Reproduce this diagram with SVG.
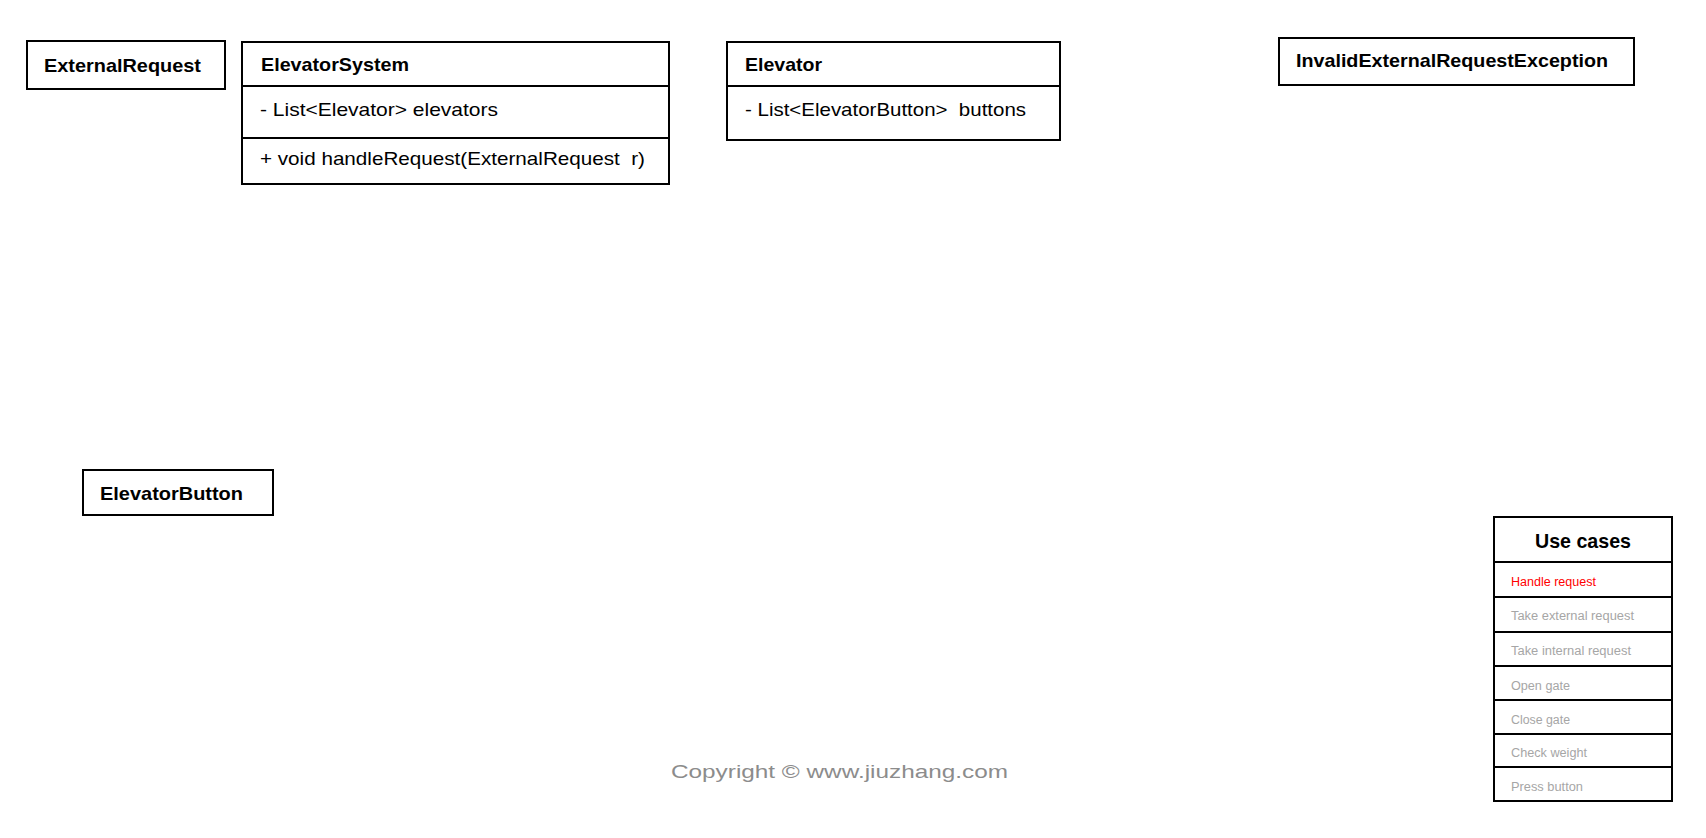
<svg xmlns="http://www.w3.org/2000/svg" width="1706" height="838" viewBox="0 0 1706 838">
<style>
.box{fill:#fff;stroke:#000;stroke-width:2}
.ln{stroke:#000;stroke-width:2}
.t{font-family:"Liberation Sans",Arial,sans-serif;font-weight:bold;font-size:19px;fill:#000}
.m{font-family:"Liberation Sans",Arial,sans-serif;font-size:18.5px;fill:#000}
.uc{font-family:"Liberation Sans",Arial,sans-serif;font-size:12.5px;fill:#a6a6a6}
.uch{font-family:"Liberation Sans",Arial,sans-serif;font-weight:bold;font-size:21px;fill:#000}
.cp{font-family:"Liberation Sans",Arial,sans-serif;font-size:19px;fill:#8c8c8c}
</style>
<rect width="1706" height="838" fill="#fff"/>
<g id="connectors"></g>
<g id="ExternalRequest">
<rect class="box" x="27" y="41" width="198" height="48"/>
<text class="t" x="44" y="71.5" textLength="157" lengthAdjust="spacingAndGlyphs">ExternalRequest</text>
</g>
<g id="ElevatorSystem">
<rect class="box" x="242" y="42" width="427" height="142"/>
<line class="ln" x1="242" y1="86" x2="669" y2="86"/>
<line class="ln" x1="242" y1="138" x2="669" y2="138"/>
<text class="t" x="261" y="71" textLength="148" lengthAdjust="spacingAndGlyphs">ElevatorSystem</text>
<text class="m" x="260" y="116" textLength="238" lengthAdjust="spacingAndGlyphs">- List&lt;Elevator&gt; elevators</text>
<text class="m" x="260" y="165" textLength="385" lengthAdjust="spacingAndGlyphs" xml:space="preserve">+ void handleRequest(ExternalRequest  r)</text>
</g>
<g id="Elevator">
<rect class="box" x="727" y="42" width="333" height="98"/>
<line class="ln" x1="727" y1="86" x2="1060" y2="86"/>
<text class="t" x="745" y="71" textLength="77" lengthAdjust="spacingAndGlyphs">Elevator</text>
<text class="m" x="745" y="116" textLength="281" lengthAdjust="spacingAndGlyphs" xml:space="preserve">- List&lt;ElevatorButton&gt;  buttons</text>
</g>
<g id="InvalidExternalRequestException">
<rect class="box" x="1279" y="38" width="355" height="47"/>
<text class="t" x="1296" y="67" textLength="312" lengthAdjust="spacingAndGlyphs">InvalidExternalRequestException</text>
</g>
<g id="ElevatorButton">
<rect class="box" x="83" y="470" width="190" height="45"/>
<text class="t" x="100" y="500" textLength="143" lengthAdjust="spacingAndGlyphs">ElevatorButton</text>
</g>
<g id="UseCases">
<rect class="box" x="1494" y="517" width="178" height="284"/>
<line class="ln" x1="1494" y1="562" x2="1672" y2="562"/>
<line class="ln" x1="1494" y1="597" x2="1672" y2="597"/>
<line class="ln" x1="1494" y1="632" x2="1672" y2="632"/>
<line class="ln" x1="1494" y1="666" x2="1672" y2="666"/>
<line class="ln" x1="1494" y1="700" x2="1672" y2="700"/>
<line class="ln" x1="1494" y1="734" x2="1672" y2="734"/>
<line class="ln" x1="1494" y1="767" x2="1672" y2="767"/>
<text class="uch" x="1583" y="547.5" text-anchor="middle" textLength="96" lengthAdjust="spacingAndGlyphs">Use cases</text>
<text class="uc" x="1511" y="586" style="fill:#ff0000" textLength="85" lengthAdjust="spacingAndGlyphs">Handle request</text>
<text class="uc" x="1511" y="620" textLength="123" lengthAdjust="spacingAndGlyphs">Take external request</text>
<text class="uc" x="1511" y="654.5" textLength="120" lengthAdjust="spacingAndGlyphs">Take internal request</text>
<text class="uc" x="1511" y="689.5" textLength="59" lengthAdjust="spacingAndGlyphs">Open gate</text>
<text class="uc" x="1511" y="724" textLength="59" lengthAdjust="spacingAndGlyphs">Close gate</text>
<text class="uc" x="1511" y="757" textLength="76" lengthAdjust="spacingAndGlyphs">Check weight</text>
<text class="uc" x="1511" y="791" textLength="72" lengthAdjust="spacingAndGlyphs">Press button</text>
</g>
<text class="cp" x="671" y="778" textLength="337" lengthAdjust="spacingAndGlyphs">Copyright © www.jiuzhang.com</text>
</svg>
